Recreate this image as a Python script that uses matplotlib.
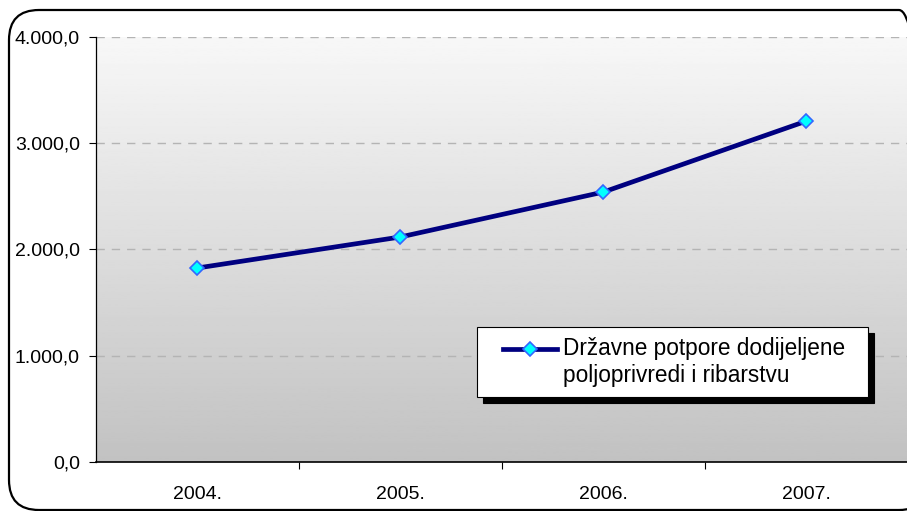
import numpy as np
import matplotlib.pyplot as plt
from matplotlib.patches import FancyBboxPatch
from matplotlib.legend_handler import HandlerLine2D

plt.rcParams['font.family'] = ['Liberation Sans', 'DejaVu Sans']

# data
years = ['2004.', '2005.', '2006.', '2007.']
potpore = [1826, 2118, 2541, 3209]
series_label = 'Državne potpore dodijeljene\npoljoprivredi i ribarstvu'
y_ticks = [0, 1000, 2000, 3000, 4000]
y_labels = ['0,0', '1.000,0', '2.000,0', '3.000,0', '4.000,0']


class FirstLineHandler(HandlerLine2D):
    # legend key next to the first line of the label, with some extra left room
    def create_artists(self, legend, orig_handle, xdescent, ydescent,
                       width, height, fontsize, trans):
        artists = super().create_artists(legend, orig_handle, xdescent, ydescent,
                                         width, height, fontsize, trans)
        for a in artists:
            xd = np.asarray(a.get_xdata(), dtype=float)
            if len(xd) == 3:
                xd[0] += 11.5
                xd[1] = (xd[0] + xd[2]) / 2
                a.set_xdata(xd)
            a.set_ydata(np.asarray(a.get_ydata()) + 0.6 * fontsize)
        return artists


fig = plt.figure(figsize=(9.07, 5.11), dpi=100)
ax = fig.add_axes([0.1058, 0.0959, 0.8953, 0.8317])

# gradient background of the plot area
grad = np.linspace(0.97, 0.76, 256).reshape(-1, 1)
ax.imshow(grad, cmap='gray', vmin=0, vmax=1, aspect='auto',
          extent=(-0.5, 3.5, 0, 4000), origin='upper', zorder=0)

x = np.arange(len(years))
line, = ax.plot(x, potpore, color='#000080', lw=3.4, marker='D', markersize=7,
                markerfacecolor='#00ffff', markeredgecolor='#3366ff',
                markeredgewidth=1.2, label=series_label, zorder=3)

ax.set_xlim(-0.5, 3.5)
ax.set_ylim(0, 4000)
ax.set_yticks(y_ticks)
ax.set_yticklabels(y_labels)
ax.set_xticks([0.5, 1.5, 2.5])
ax.set_xticklabels([])
ax.set_xticks(x, minor=True)
ax.set_xticklabels(years, minor=True)
ax.tick_params(axis='x', which='major', length=5, width=0.8, color='black')
ax.tick_params(axis='x', which='minor', length=0, pad=17, labelsize=14)
ax.tick_params(axis='y', length=5, width=0.8, pad=6.5, labelsize=14)

for yv in y_ticks[1:]:
    ax.axhline(yv, color='#b4b4b4', lw=1, ls=(0, (6, 5)), zorder=1)

for s in ['top', 'right']:
    ax.spines[s].set_visible(False)
ax.spines['left'].set_linewidth(0.9)
ax.spines['bottom'].set_linewidth(1.2)

leg = ax.legend(handles=[line], loc='lower left',
                bbox_to_anchor=(0.4692, 0.153, 0.4815, 0.165), mode='expand',
                fontsize=16.3, frameon=True, fancybox=False, handlelength=3.1,
                borderpad=0.45, handletextpad=0.25, borderaxespad=0,
                handler_map={line: FirstLineHandler()},
                shadow={'color': 'black', 'alpha': 1, 'ox': 4, 'oy': -4})
leg.get_frame().set_edgecolor('black')
leg.get_frame().set_linewidth(0.8)
leg.get_frame().set_facecolor('white')
leg.get_frame().set_alpha(1)

# rounded border of the chart area
border = FancyBboxPatch((0.09, 0.01), 9.2, 5.0,
                        boxstyle='round,pad=0,rounding_size=0.3',
                        transform=fig.dpi_scale_trans, fill=False,
                        edgecolor='black', lw=1.6, clip_on=False)
fig.patches.append(border)

fig.savefig('out.png', dpi=100)
